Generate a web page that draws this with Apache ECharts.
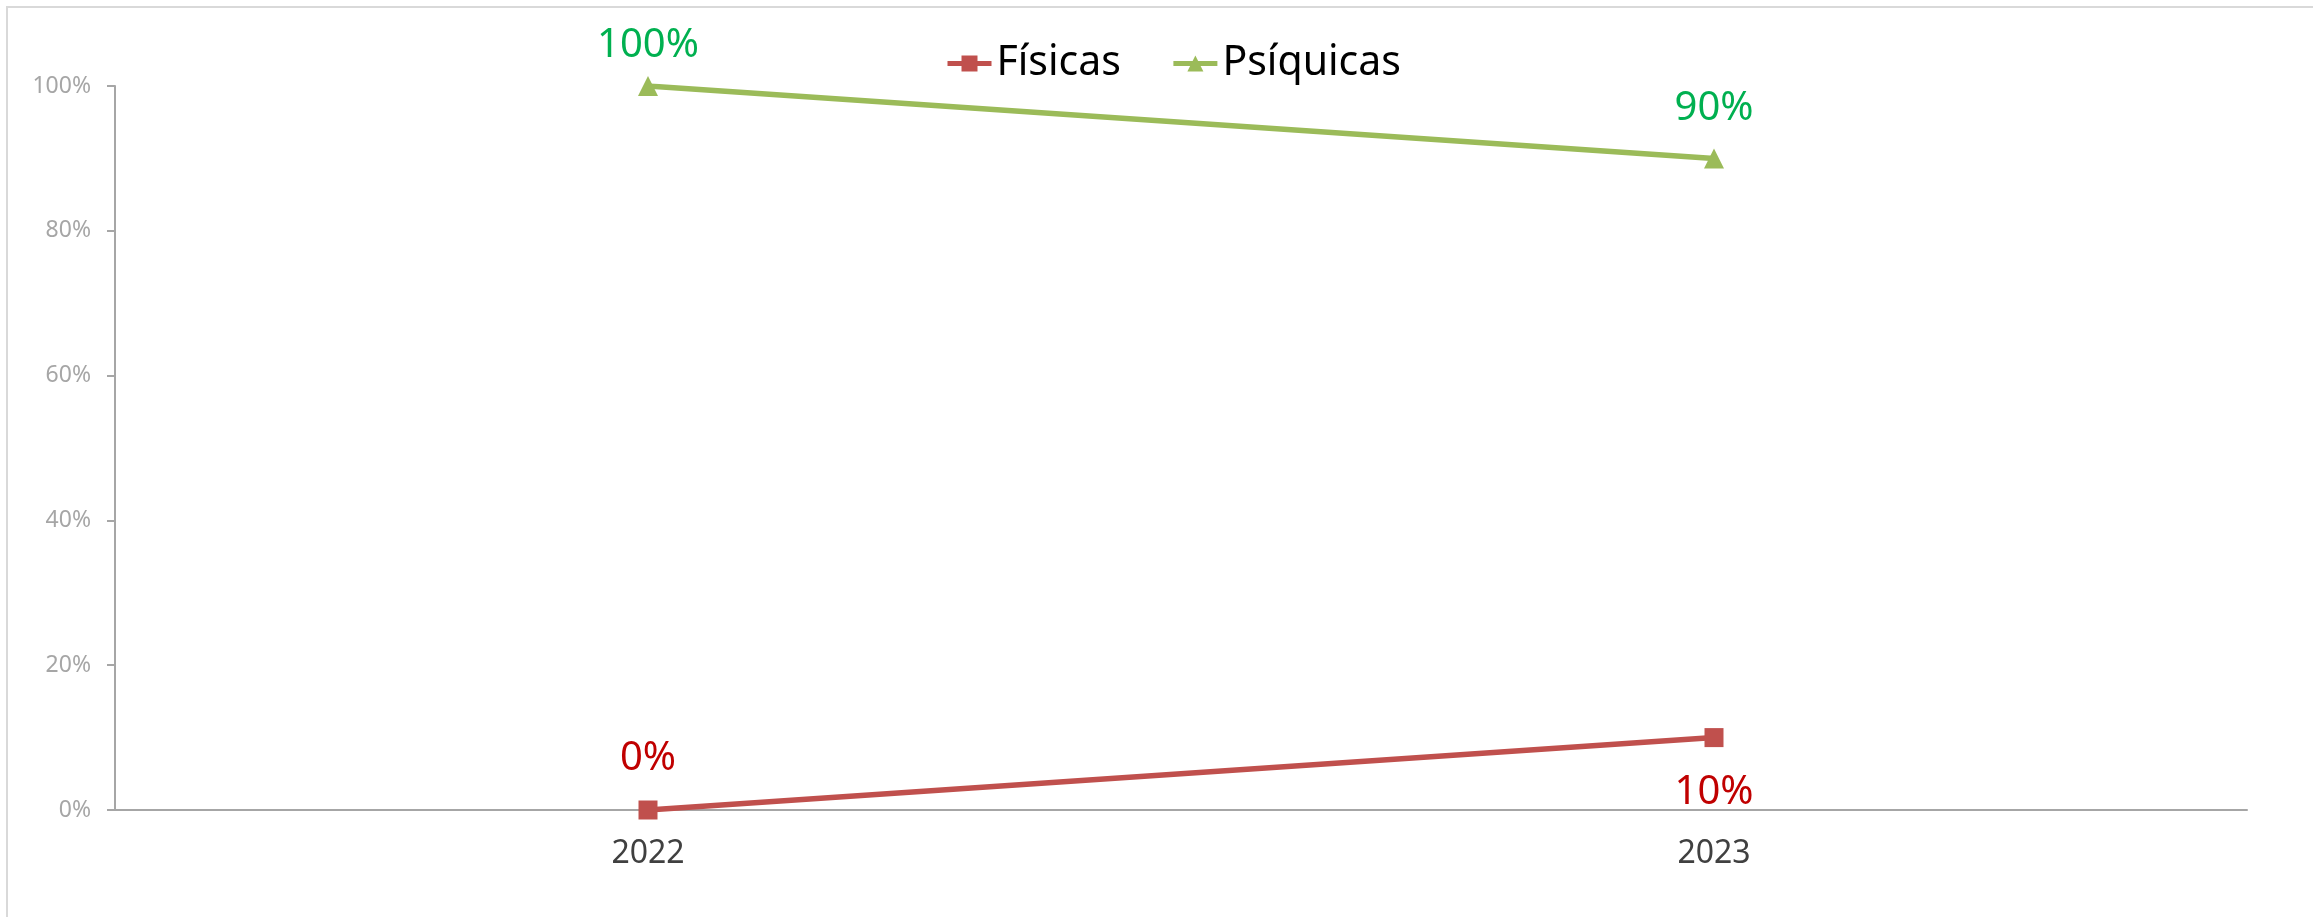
<!DOCTYPE html>
<html>
<head>
<meta charset="utf-8">
<script src="https://cdn.jsdelivr.net/npm/echarts@6/dist/echarts.min.js"></script>
<style>
  html, body { margin: 0; padding: 0; background: #fff; }
  #chart { width: 2313px; height: 917px; }
  .frame { position: absolute; left: 6px; top: 6px; width: 2400px; height: 1000px; border: 2px solid #d9d9d9; pointer-events: none; }
</style>
</head>
<body>
<div id="chart"></div>
<div class="frame"></div>
<script>
const categories = ['2022', '2023'];
const fisicas = [0, 0.1];
const psiquicas = [1, 0.9];
const yTicks = [0, 0.2, 0.4, 0.6, 0.8, 1];

const chart = echarts.init(document.getElementById('chart'));
const font = '"Noto Sans", sans-serif';
const pct = p => Math.round(p.value * 100) + '%';

// etiquetas: 0% arriba, 10% abajo
const fisicasData = fisicas.map((v, i) => ({
  value: v,
  label: { position: i === 0 ? 'top' : 'bottom', distance: i === 0 ? 22 : 26 }
}));
const psiquicasData = psiquicas.map((v, i) => ({
  value: v,
  label: { distance: i === 0 ? 10 : 20 }
}));

const option = {
  animation: false,
  textStyle: { fontFamily: font },
  grid: { left: 115, right: 66, top: 86, bottom: 107, containLabel: false, outerBoundsMode: 'none' },
  legend: {
    top: 38,
    left: 940,
    itemWidth: 44,
    itemHeight: 20,
    itemGap: 50,
    lineStyle: { width: 5 },
    textStyle: { fontSize: 41, color: '#000', fontFamily: font },
    data: ['Físicas', 'Psíquicas']
  },
  xAxis: {
    type: 'category',
    data: categories,
    boundaryGap: true,
    axisLine: { lineStyle: { color: '#a6a6a6', width: 2 } },
    axisTick: { length: 11, lineStyle: { color: '#a6a6a6', width: 2 } },
    axisLabel: { fontSize: 32, color: '#404040', margin: 28, fontFamily: font }
  },
  yAxis: {
    type: 'value',
    min: yTicks[0],
    max: yTicks[yTicks.length - 1],
    interval: 0.2,
    axisLine: { show: true, onZero: false, lineStyle: { color: '#a6a6a6', width: 2 } },
    axisTick: { show: true, length: 8, lineStyle: { color: '#a6a6a6', width: 2 } },
    splitLine: { show: false },
    axisLabel: {
      fontSize: 23, color: '#a6a6a6', margin: 24, fontFamily: font,
      formatter: v => Math.round(v * 100) + '%'
    }
  },
  series: [
    {
      name: 'Físicas',
      type: 'line',
      data: fisicasData,
      symbol: 'rect',
      symbolSize: 19,
      lineStyle: { color: '#c0504d', width: 5.5 },
      itemStyle: { color: '#c0504d' },
      label: { show: true, fontSize: 40, color: '#c00000', fontFamily: font, formatter: pct }
    },
    {
      name: 'Psíquicas',
      type: 'line',
      data: psiquicasData,
      symbol: 'triangle',
      symbolSize: 20,
      lineStyle: { color: '#9bbb59', width: 5.5 },
      itemStyle: { color: '#9bbb59' },
      label: { show: true, position: 'top', fontSize: 40, color: '#00b050', fontFamily: font, formatter: pct }
    }
  ]
};

chart.setOption(option);
window.addEventListener('resize', () => chart.resize());
</script>
</body>
</html>
